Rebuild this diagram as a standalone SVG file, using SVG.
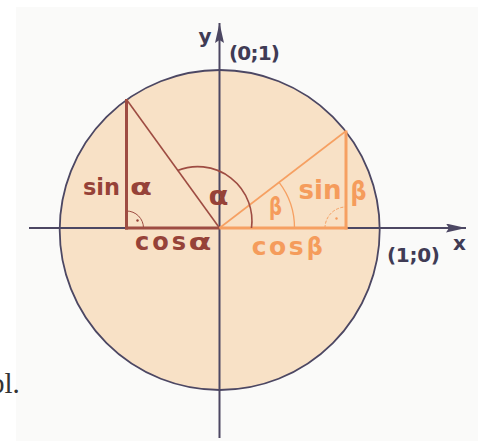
<svg xmlns="http://www.w3.org/2000/svg" width="485" height="441" viewBox="0 0 485 441">
  <style>
    .lbl { font-family: "DejaVu Sans", Verdana, sans-serif; font-weight: bold; }
    .brown { fill: #964238; }
    .orange { fill: #f59c5c; }
    .dark { fill: #3f3b55; }
    .bline { stroke: #9e4c42; fill: none; }
    .oline { stroke: #f6a062; fill: none; }
    .axis { stroke: #4c4763; stroke-width: 2; fill: none; }
  </style>
  <defs>
    <marker id="arrow" markerUnits="userSpaceOnUse" markerWidth="20" markerHeight="10" refX="20" refY="4.5" orient="auto">
      <path d="M0,0 L20,4.5 L0,9 L3,4.5 Z" fill="#4c4763"/>
    </marker>
  </defs>

  <rect width="485" height="441" fill="#ffffff"/>
  <rect id="panel" x="16" y="7" width="462" height="434" fill="#fafaf9"/>
  <text x="-10" y="393" font-family="'Liberation Serif', serif" font-size="29" fill="#333333">bl.</text>

  <g id="unit-circle">
    <circle cx="219.7" cy="230" r="160" fill="#f8e1c6" stroke="#4c4763" stroke-width="1.8"/>
  </g>

  <g id="axes">
    <line class="axis" x1="29" y1="228" x2="466" y2="228" marker-end="url(#arrow)"/>
    <line class="axis" x1="219.5" y1="438" x2="219.5" y2="23" marker-end="url(#arrow)"/>
  </g>

  <g id="triangle-alpha">
    <line class="bline" x1="126.5" y1="99.5" x2="219.5" y2="228" stroke-width="1.6"/>
    <line class="bline" x1="126.5" y1="99" x2="126.5" y2="229.5" stroke-width="3"/>
    <line class="bline" x1="125" y1="228" x2="219.5" y2="228" stroke-width="3.2"/>
    <path class="bline" d="M126.5,211 A17,17 0 0 1 143.5,228" stroke-width="1"/>
    <circle cx="137.5" cy="220.5" r="1.2" class="brown"/>
  </g>

  <g id="triangle-beta">
    <line class="oline" x1="219.5" y1="228" x2="346" y2="131" stroke-width="1.6"/>
    <line class="oline" x1="346" y1="130.5" x2="346" y2="229.5" stroke-width="3"/>
    <line class="oline" x1="219.5" y1="228" x2="347.5" y2="228" stroke-width="3.2"/>
    <path class="oline" d="M325,228 A21,21 0 0 1 346,207" stroke-width="1" stroke-dasharray="3 1.5"/>
    <circle cx="336.5" cy="218.5" r="1.2" class="orange"/>
    <path class="oline" d="M279.1,182.4 A75,75 0 0 1 294.5,228" stroke-width="1.3"/>
  </g>

  <g id="angle-alpha">
    <path class="bline" d="M177.5,170.5 A54.3,54.3 0 0 1 251.5,228" stroke-width="1.6"/>
  </g>

  <g id="labels">
    <text class="lbl brown" x="83" y="195" font-size="23" textLength="37" lengthAdjust="spacingAndGlyphs">sin</text>
    <text class="lbl brown" x="130" y="195" font-size="23" textLength="22" lengthAdjust="spacingAndGlyphs">α</text>
    <text class="lbl brown" x="135" y="250" font-size="24" textLength="51" lengthAdjust="spacing">cos</text>
    <text class="lbl brown" x="188.5" y="250" font-size="23" textLength="23" lengthAdjust="spacingAndGlyphs">α</text>
    <text class="lbl brown" x="208.5" y="205" font-size="26" textLength="20" lengthAdjust="spacingAndGlyphs">α</text>

    <text class="lbl orange" x="269" y="215" font-size="24" textLength="13" lengthAdjust="spacingAndGlyphs" font-weight="normal">β</text>
    <text class="lbl orange" x="298.5" y="199" font-size="26" textLength="43" lengthAdjust="spacingAndGlyphs">sin</text>
    <text class="lbl orange" x="350.5" y="199.5" font-size="26" textLength="16" lengthAdjust="spacingAndGlyphs">β</text>
    <text class="lbl orange" x="251.7" y="255" font-size="25" textLength="52" lengthAdjust="spacing">cos</text>
    <text class="lbl orange" x="306.7" y="255" font-size="24" textLength="16" lengthAdjust="spacingAndGlyphs">β</text>

    <text class="lbl dark" x="198.5" y="43" font-size="20">y</text>
    <text class="lbl dark" x="229" y="60" font-size="20" textLength="51" lengthAdjust="spacing">(0;1)</text>
    <text class="lbl dark" x="453" y="250" font-size="20">x</text>
    <text class="lbl dark" x="387" y="262" font-size="20" textLength="53" lengthAdjust="spacing">(1;0)</text>
  </g>
</svg>
